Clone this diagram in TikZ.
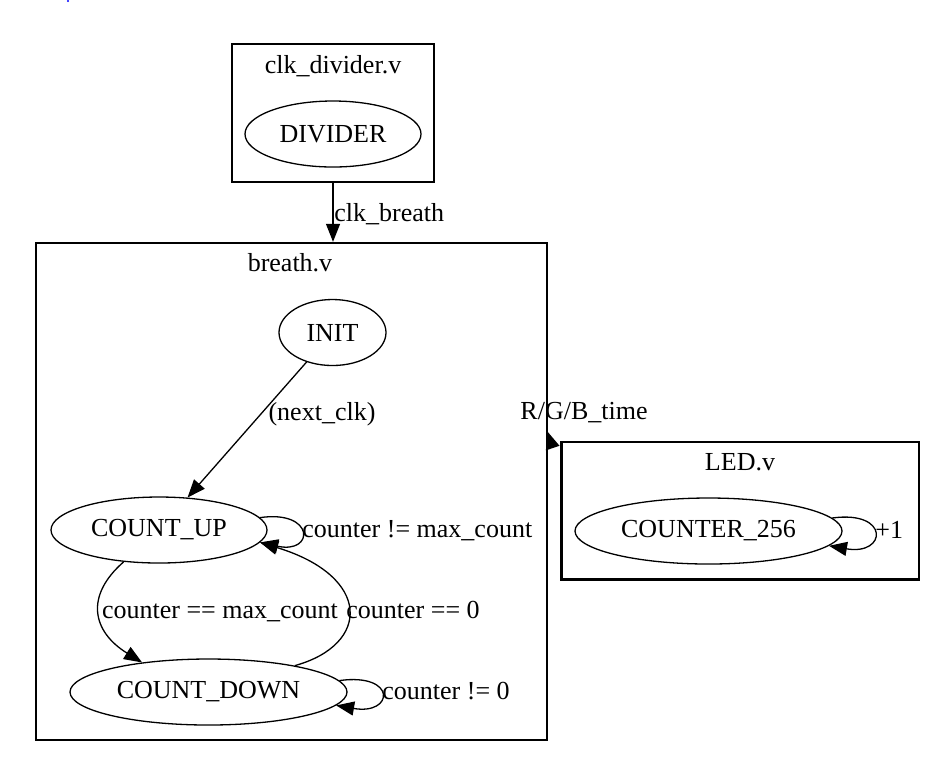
\documentclass[tikz,border=0pt]{standalone}
\usepackage{fontspec}
\setmainfont{Liberation Serif}
\usetikzlibrary{shapes.geometric,arrows.meta,calc}
\newcommand{\fnt}{\fontsize{13}{15.6}\selectfont}
\begin{document}
\begin{tikzpicture}[x=0.5pt,y=-0.5pt,
  state/.style={ellipse,draw,line width=0.65pt,inner sep=0pt,font=\fnt},
  cluster/.style={rectangle,draw,line width=1.2pt,inner sep=0pt},
  arr/.style={-{Triangle[length=9pt,width=7pt]},line width=0.65pt},
  lbl/.style={font=\fnt,inner sep=0pt}]
\useasboundingbox (0,0) rectangle (945,757);
% tiny blue mark
\fill[blue] (68,1) circle (1.2);
% clusters
\node[cluster,minimum width=101pt,minimum height=69pt] (clkbox) at (333,113) {};
\node[cluster,minimum width=255.5pt,minimum height=248.5pt] (breathbox) at (291.5,491.5) {};
\node[cluster,minimum width=178.75pt,minimum height=68.75pt] (ledbox) at (740.25,510.75) {};
% cluster titles
\node[lbl,anchor=base] (tclk) at (333,73) {clk\_divider.v};
\node[lbl,anchor=base] (tbreath) at (290,271) {breath.v};
\node[lbl,anchor=base] (tled) at (740,470) {LED.v};
% states
\node[state,minimum width=88pt,minimum height=33pt] (divider) at (333,134) {DIVIDER};
\node[state,minimum width=53.5pt,minimum height=33pt] (init) at (332.5,332.5) {INIT};
\node[state,minimum width=108pt,minimum height=33pt] (cup) at (159,530) {COUNT\_UP};
\node[state,minimum width=138.5pt,minimum height=33pt] (cdown) at (208.5,692) {COUNT\_DOWN};
\node[state,minimum width=133.5pt,minimum height=33pt] (c256) at (708.5,531) {COUNTER\_256};
% clk_breath
\draw[arr] (clkbox.south) -- (clkbox.south |- breathbox.north);
\node[lbl,anchor=base west] (lclk) at (334,221) {clk\_breath};
% R/G/B_time
\coordinate (rgbstart) at ([shift={(-8,6)}]ledbox.north west);
\coordinate (rgbtip) at (547,431);
\draw[arr] (rgbstart) -- (rgbtip);
\node[lbl,anchor=base] (lrgb) at (584,419) {R/G/B\_time};
% INIT -> COUNT_UP
\draw[arr] (init) -- (cup);
\node[lbl,anchor=base] (lnext) at (322,420) {(next\_clk)};
% COUNT_UP -> COUNT_DOWN
\draw[arr] (cup.222) .. controls +(-39,34) and +(-50,-31) .. (cdown.156);
\node[lbl,anchor=base] (lmax) at (220,618) {counter == max\_count};
% COUNT_DOWN -> COUNT_UP
\draw[arr] (cdown.17) .. controls +(76,-21) and +(112,34) .. (cup.-7.4);
\node[lbl,anchor=base west] (lzero) at (346,618) {counter == 0};
% self loops
\draw[arr] (cup.7) .. controls +(55,-8) and +(55,12) .. (cup.-7);
\node[lbl,anchor=base west] (lneqmax) at (302,537) {counter != max\_count};
\draw[arr] (cdown.5) .. controls +(58,-8) and +(58,10) .. (cdown.-6);
\node[lbl,anchor=base west] (lneqz) at (382,699) {counter != 0};
\draw[arr] (c256.6) .. controls +(58,-8) and +(58,10) .. (c256.-7);
\node[lbl,anchor=base west] (lplus) at (875,538) {+1};
\end{tikzpicture}
\end{document}
